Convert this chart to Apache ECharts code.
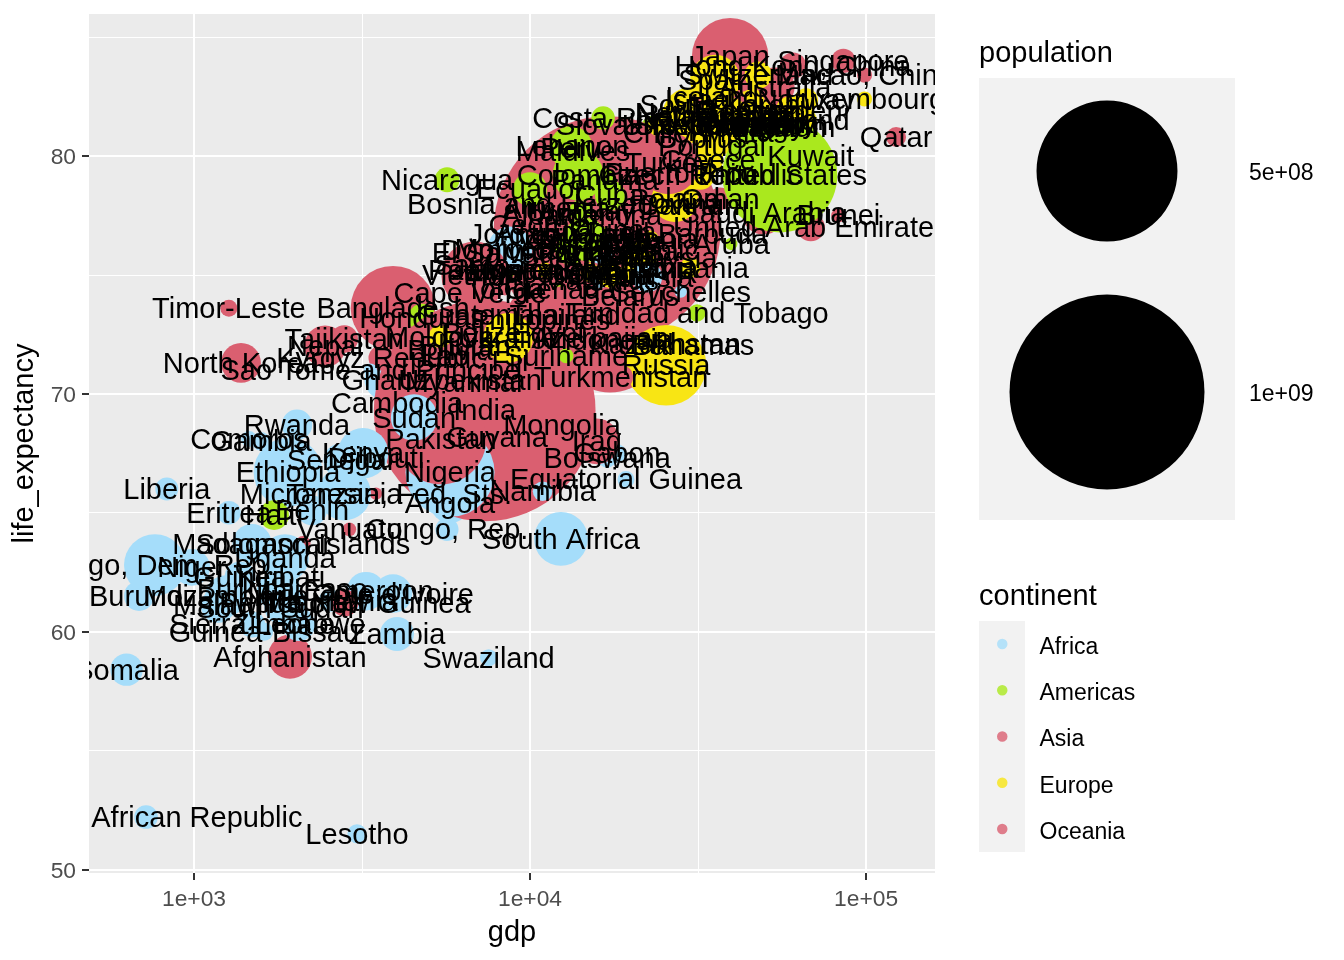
<!DOCTYPE html>
<html><head><meta charset="utf-8">
<style>html,body{margin:0;padding:0;background:#fff}#c{width:1344px;height:960px}</style>
<script src="https://cdn.jsdelivr.net/npm/echarts@6/dist/echarts.min.js"></script>
</head><body><div id="c"></div>
<script>
const countries = [
"Afghanistan","Albania","Algeria","Angola","Antigua and Barbuda","Argentina","Armenia","Aruba","Australia","Austria",
"Azerbaijan","Bahamas","Bahrain","Bangladesh","Barbados","Belarus","Belgium","Belize","Benin","Bhutan",
"Bolivia","Bosnia and Herzegovina","Botswana","Brazil","Brunei","Bulgaria","Burkina Faso","Burundi","Cambodia","Cameroon",
"Canada","Cape Verde","Central African Republic","Chile","China","Colombia","Comoros","Congo, Dem. Rep.","Congo, Rep.","Costa Rica",
"Cote d'Ivoire","Croatia","Cuba","Cyprus","Czech Republic","Denmark","Djibouti","Dominican Republic","Ecuador","Egypt",
"El Salvador","Equatorial Guinea","Eritrea","Estonia","Ethiopia","Fiji","Finland","France","Gabon","Gambia",
"Georgia","Germany","Ghana","Greece","Grenada","Guatemala","Guinea","Guinea-Bissau","Guyana","Haiti",
"Honduras","Hong Kong, China","Hungary","Iceland","India","Indonesia","Iran","Iraq","Ireland","Israel",
"Italy","Jamaica","Japan","Jordan","Kazakhstan","Kenya","Kiribati","Kuwait","Kyrgyz Republic","Lao",
"Latvia","Lebanon","Lesotho","Liberia","Libya","Lithuania","Luxembourg","Macao, China","Macedonia, FYR","Madagascar",
"Malawi","Malaysia","Maldives","Mali","Malta","Mauritania","Mauritius","Micronesia, Fed. Sts.","Moldova","Mongolia",
"Montenegro","Morocco","Mozambique","Myanmar","Namibia","Nepal","Netherlands","New Zealand","Nicaragua","Niger",
"Nigeria","North Korea","Norway","Oman","Pakistan","Panama","Papua New Guinea","Paraguay","Peru","Philippines",
"Poland","Portugal","Puerto Rico","Qatar","Romania","Russia","Rwanda","Samoa","Sao Tome and Principe","Saudi Arabia",
"Senegal","Serbia","Seychelles","Sierra Leone","Singapore","Slovak Republic","Slovenia","Solomon Islands","Somalia","South Africa",
"South Korea","South Sudan","Spain","Sri Lanka","St. Lucia","St. Vincent","Sudan","Suriname","Swaziland","Sweden",
"Switzerland","Tajikistan","Tanzania","Thailand","Timor-Leste","Togo","Tonga","Trinidad and Tobago","Tunisia","Turkey",
"Turkmenistan","Uganda","Ukraine","United Arab Emirates","United Kingdom","United States","Uruguay","Uzbekistan","Vanuatu","Venezuela",
"Vietnam","Zambia","Zimbabwe"];
const gdp = [
1930,11500,17310,5780,20000,16160,12000,39700,53600,44000,
16160,30560,29950,3910,16160,19850,56600,7190,2245,6400,
5780,12710,16960,15090,82700,16160,1830,686,4020,3250,
43700,6630,720,23700,16960,13900,1458,765,5660,16500,
3910,18530,17310,32300,32080,46800,3480,13150,10000,11320,
8480,19300,1270,22770,1905,8720,42800,41600,18150,1582,
10710,43700,3700,33900,12280,7450,1371,1615,7975,1731,
4770,60600,49000,34800,7330,17310,18530,15800,65900,32080,
29950,8420,39400,8900,25240,3185,1815,68500,3600,5587,
21260,13330,3055,830,16160,29950,99000,99000,15090,1488,
1180,24380,13430,1731,41600,2540,16160,3480,5390,12450,
11080,8720,1245,6410,10900,2454,35300,36790,5665,985,
5780,1380,66300,36790,5430,16700,2810,7603,13240,10710,
27000,34800,27970,122900,21260,25400,2025,7099,3350,49500,
2720,17310,28100,1490,85600,24380,29950,2110,630,12360,
36790,1800,35560,15090,16160,15090,4520,12800,7530,59450,
47750,2800,2800,12710,1270,1985,8420,31400,22300,25800,
18650,1866,8600,68500,38050,55400,14080,6630,2900,14580,
6850,4020,2050];
const lifeExpectancy = [
58.95,77.5,75.6,65.4,76.7,77.5,77.8,76.3,82.9,81.7,
72.35,72.05,77.95,73.6,76.25,74.1,81.2,72.55,65.1,72,
71.85,78,67.3,75.2,77.5,75,61.8,61.5,69.6,61.7,
81.2,74.25,52.2,80.97,76.9,79.2,68.1,62.8,64.3,81.6,
61.6,76.4,78.35,80.75,79.2,81.4,67.3,76.05,78.6,72.55,
75.9,66.4,65,76.5,66.7,71.4,81.6,81.9,67.5,68,
77.1,81.3,70.6,79.85,74.4,73.3,62.3,60,68.2,64.9,
73.2,83.8,81.4,82.5,69.3,72.25,75.85,68,81.5,82.35,
81.7,75.2,84.2,76.7,72.1,67.5,62.3,80,71.5,71.6,
76,80.4,51.5,66,76,75.3,82.4,83.4,75.1,63.7,
61.1,75.7,80.2,61.7,81,61.3,74.8,65.8,72.4,68.7,
75.2,76.1,61.5,70.5,65.9,72,81.7,81.8,79,62.7,
66.7,71.3,82.35,78.2,68.1,79,61.2,75.2,80.35,73.1,
78.2,80.4,79.3,80.8,75.3,71.2,68.7,75.4,71,77.6,
67.2,75,74.3,60.3,84,81.3,81.3,63.7,58.4,63.9,
82.15,61,83.2,76.45,76.8,75.8,69,71.6,58.9,81.9,
83.4,72.3,65.8,73.3,73.6,61.2,74.4,73.4,74.9,79.7,
70.7,63.1,72.35,77,81.3,79.2,77.7,70.6,64.3,76.5,
75,59.9,60.3];
const populationMillions = [
33,2.9,39.7,25,0.09,43,3,0.1,24,8.6,
9.6,0.4,1.4,161,0.3,9.5,11.3,0.36,10.9,0.8,
11,3.8,2.2,204,0.4,7.2,18,11,15.6,23,
36,0.5,4.9,17.9,1376,48,0.8,77,4.6,4.8,
23,4.2,11.4,1.2,10.5,5.7,0.9,10.5,16,92,
6.3,1.2,5,1.3,100,0.9,5.5,64,1.9,1.9,
3.7,81,27,11,0.1,16,12,1.8,0.8,10.7,
8.6,7.3,9.8,0.33,1311,258,79,36,4.7,8,
60,2.8,127,9.2,17.5,47,0.11,3.9,6,6.8,
2,5.8,2.1,4.5,6.2,2.9,0.57,0.6,2,24,
17,30,0.4,17.5,0.4,4,1.3,0.1,4,3,
0.6,34,28,53,2.4,28,17,4.6,6,20,
181,25,5.2,4.2,189,3.9,7.9,6.6,31,100,
38,10.4,3.5,2.5,20,144,11.6,0.2,0.2,31,
15,7,0.09,7,5.6,5.4,2,0.6,14,55,
50,12,46,20,0.18,0.1,38,0.55,1.3,9.8,
8.3,8.5,54,68,1.2,7,0.1,1.4,11.3,78,
5.4,40,45,9,65,320,3.4,31,0.26,31,
93,16,15];
const F="Africa",M="Americas",A="Asia",E="Europe",O="Oceania";
const continentOf = [
A,E,F,F,M,M,A,M,O,E,
A,M,A,A,M,E,E,M,F,A,
M,E,F,M,A,E,F,F,A,F,
M,F,F,M,A,M,F,F,F,M,
F,E,M,A,E,E,F,M,M,F,
M,F,F,E,F,O,E,E,F,F,
A,E,F,E,M,M,F,F,M,M,
M,A,E,E,A,A,A,A,E,A,
E,M,A,A,A,F,O,A,A,A,
E,A,F,F,F,E,E,A,E,F,
F,A,A,F,E,F,F,O,E,A,
E,F,F,A,F,A,E,O,M,F,
F,A,E,A,A,M,O,M,M,A,
E,E,M,A,E,E,F,O,F,A,
F,E,F,F,A,E,E,O,F,F,
A,F,E,A,M,M,F,M,F,E,
E,A,F,A,A,F,O,M,F,A,
A,F,E,A,E,M,M,A,O,M,
A,F,F];
const continents = [F,M,A,E,O];
const continentColors = {Africa:"#A5DDFA",Americas:"#AAE81E",Asia:"#DA5F70",Europe:"#F8E514",Oceania:"#DA5F70"};
const xTicks = [1000,10000,100000];
const xMinor = [3162.3,31622.8];
const yTicks = [50,60,70,80];
const yMinor = [55,65,75,85];
const sizeBreaks = [500,1000];
const sizeBreakLabels = ["5e+08","1e+09"];

const font = '"Liberation Sans", Arial, sans-serif';
const radius = p => 5.3 + 0.002915*Math.sqrt(p*1e6);
const points = countries.map((n,i)=>({
  name:n, value:[gdp[i],lifeExpectancy[i]],
  symbolSize:2*radius(populationMillions[i]),
  itemStyle:{color:continentColors[continentOf[i]],opacity:1}
}));
const chart = echarts.init(document.getElementById('c'),null,{renderer:'canvas',width:1344,height:960});
const legendY=[171,392];
chart.setOption({
  animation:false,
  backgroundColor:'#fff',
  textStyle:{fontFamily:font},
  grid:{left:89,right:409,top:14,bottom:87,show:true,backgroundColor:'#EBEBEB',borderWidth:0,containLabel:false},
  xAxis:{type:'log',logBase:10,min:487,max:160400,
    name:'gdp',nameLocation:'middle',nameGap:60,nameTextStyle:{fontSize:29,color:'#000',fontFamily:font,verticalAlign:'middle'},
    axisLine:{show:false},
    axisTick:{show:true,length:7,lineStyle:{color:'#333',width:2},customValues:xTicks},
    axisLabel:{color:'#4D4D4D',fontSize:22.8,margin:15,fontFamily:font,customValues:xTicks,formatter:v=>v.toExponential(0).replace(/e\+(\d)$/,'e+0$1')},
    splitLine:{show:true,lineStyle:{color:'#fff',width:2}},minorTick:{show:false},minorSplitLine:{show:false}},
  yAxis:{type:'value',min:49.85,max:85.97,
    name:'life_expectancy',nameLocation:'middle',nameGap:55,nameRotate:90,nameTextStyle:{fontSize:29,color:'#000',fontFamily:font,verticalAlign:'middle'},
    axisLine:{show:false},
    axisTick:{show:true,length:7,lineStyle:{color:'#333',width:2},customValues:yTicks},
    axisLabel:{color:'#4D4D4D',fontSize:22.8,margin:13,fontFamily:font,customValues:yTicks,verticalAlign:'top',lineHeight:4},
    splitLine:{show:true,lineStyle:{color:'#fff',width:2}}},
  legend:{orient:'vertical',left:997,top:634.65,padding:0,itemWidth:10.5,itemHeight:17.85,itemGap:20.25,
    icon:'path://M0 5 A5 5 0 1 1 10 5 A5 5 0 1 1 0 5 Z M5 17 L5.01 17 L5.01 17.01 Z',
    data:continents,selectedMode:false,
    textStyle:{fontSize:23,color:'#000',fontFamily:font,padding:[0,0,0,27],lineHeight:26}},
  series:[
    {type:'scatter',z:1,silent:true,data:[],symbolSize:0,
     markLine:{z:1,silent:true,symbol:'none',animation:false,label:{show:false},lineStyle:{color:'#fff',width:1,type:'solid'},
       data:[...xMinor.map(v=>({xAxis:v})),...yMinor.map(v=>({yAxis:v}))]}},
    {type:'scatter',z:3,silent:true,clip:true,progressive:0,large:false,data:points,emphasis:{disabled:true}},
    {type:'custom',z:4,silent:true,clip:true,progressive:0,data:points.map(p=>p.value),
     encode:{x:0,y:1},
     renderItem:(params,api)=>{
       const c=api.coord([api.value(0),api.value(1)]);
       return {type:'text',x:c[0],y:c[1]+2,silent:true,style:{text:countries[params.dataIndex],fill:'#000',fontSize:29,fontFamily:font,align:'center',verticalAlign:'middle'}};
     }},
    ...continents.map(c=>({type:'scatter',name:c,data:[],itemStyle:{color:continentColors[c]}}))
  ],
  graphic:[
    {type:'text',left:979,top:39,style:{text:'population',fontSize:29,fill:'#000',fontFamily:font}},
    {type:'rect',shape:{x:979,y:78,width:256,height:442},style:{fill:'#F2F2F2'}},
    ...sizeBreaks.map((b,i)=>({type:'circle',shape:{cx:1107,cy:legendY[i],r:radius(b)},style:{fill:'#000'}})),
    ...sizeBreakLabels.map((t,i)=>({type:'text',x:1249,y:legendY[i]+3,style:{text:t,fontSize:23,fill:'#000',fontFamily:font,verticalAlign:'middle'}})),
    {type:'text',left:979,top:582,style:{text:'continent',fontSize:29,fill:'#000',fontFamily:font}},
    {type:'rect',z:-1,shape:{x:979,y:621,width:46,height:231},style:{fill:'#F2F2F2'}}
  ]
});
</script></body></html>
